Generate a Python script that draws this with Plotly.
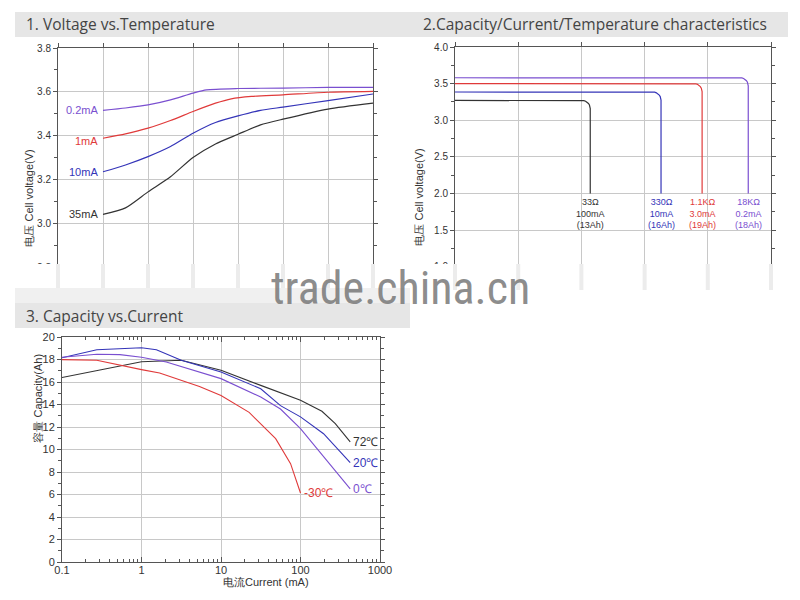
import numpy as np
import plotly.graph_objects as go

# ---------------- data ----------------
# Chart 1: Voltage vs Temperature (x in grid units)
v02_x = [1, 1.5, 2, 2.5, 3, 3.3, 4, 5, 6, 7]
v02_y = [3.515, 3.526, 3.54, 3.563, 3.594, 3.609, 3.615, 3.617, 3.62, 3.62]
v1_x = [1, 1.5, 2, 2.5, 3, 3.5, 3.85, 4.3, 5, 6, 7]
v1_y = [3.388, 3.408, 3.434, 3.469, 3.51, 3.548, 3.568, 3.579, 3.586, 3.598, 3.602]
v10_x = [1, 1.5, 2, 2.5, 3, 3.5, 4, 4.5, 5, 6, 7]
v10_y = [3.235, 3.266, 3.304, 3.35, 3.411, 3.46, 3.49, 3.515, 3.53, 3.56, 3.59]
v35_x = [1, 1.5, 2, 2.5, 3, 3.5, 4, 4.5, 5, 6, 7]
v35_y = [3.04, 3.07, 3.143, 3.212, 3.3, 3.362, 3.406, 3.449, 3.475, 3.521, 3.548]
c1_labels = ["0.2mA", "1mA", "10mA", "35mA"]

# Chart 2: discharge plateaus
c2_levels = [3.27, 3.385, 3.50, 3.58]
c2_cutoff = [2.14, 3.26, 3.91, 4.64]
c2_end = 2.0
c2_labels = ["33Ω<br>100mA<br>(13Ah)", "330Ω<br>10mA<br>(16Ah)",
             "1.1KΩ<br>3.0mA<br>(19Ah)", "18KΩ<br>0.2mA<br>(18Ah)"]

# Chart 3: Capacity vs Current
t72_x = [0.1, 0.274, 1, 3.16, 10, 31.6, 100, 186, 274, 422]
t72_y = [16.4, 17.0, 17.8, 17.93, 17.04, 15.7, 14.37, 13.4, 12.3, 10.67]
t20_x = [0.1, 0.274, 1, 1.54, 3.16, 10, 31.6, 56, 100, 195, 422]
t20_y = [18.16, 18.87, 19.05, 18.87, 17.93, 16.89, 15.4, 13.9, 12.9, 11.4, 8.83]
t0_x = [0.1, 0.274, 0.536, 1, 2.05, 10, 31.6, 56, 100, 422]
t0_y = [18.2, 18.46, 18.43, 18.2, 17.78, 16.3, 14.67, 13.6, 11.85, 6.5]
tm30_x = [0.1, 0.274, 1, 1.69, 5.36, 10, 22.6, 48.7, 75, 100]
tm30_y = [17.99, 17.93, 17.1, 16.8, 15.6, 14.8, 13.3, 10.96, 8.74, 6.13]
c3_labels = ["72℃", "20℃", "0℃", "-30℃"]

# ---------------- styles ----------------
BLACK = "#333333"
BLUE = "#3434b8"
RED = "#e03a3a"
PURPLE = "#7a4fd0"
GRID = "#c8c8c8"
AXIS = "#555555"
TFONT = "Liberation Sans, Arial, sans-serif"
HFONT = "Open Sans, DejaVu Sans, sans-serif"

# page has an 8px body margin: figure is placed at (8, 8)
OFF = 8
W, H = 800 - 2 * OFF, 600 - 2 * OFF
def px(x): return (x - OFF) / W
def py(y): return 1 - (y - OFF) / H

fig = go.Figure()

# chart 1 traces
for xs, ys, c in [(v02_x, v02_y, PURPLE), (v1_x, v1_y, RED),
                  (v10_x, v10_y, BLUE), (v35_x, v35_y, BLACK)]:
    fig.add_trace(go.Scatter(x=xs, y=ys, mode="lines", xaxis="x", yaxis="y",
                             line=dict(color=c, width=1.2, shape="spline", smoothing=0.6),
                             showlegend=False, hoverinfo="skip"))

# chart 2 traces (rounded corners)
rx, ry = 0.13, 0.11
t = np.linspace(0, np.pi / 2, 8)
for L, cx, c in zip(c2_levels, c2_cutoff, [BLACK, BLUE, RED, PURPLE]):
    xs = [0, cx - rx] + list(cx - rx + rx * np.sin(t)) + [cx]
    ys = [L, L] + list(L - ry + ry * np.cos(t)) + [c2_end]
    fig.add_trace(go.Scatter(x=xs, y=ys, mode="lines", xaxis="x2", yaxis="y2",
                             line=dict(color=c, width=1.2),
                             showlegend=False, hoverinfo="skip"))

# chart 3 traces
for xs, ys, c in [(t72_x, t72_y, BLACK), (t20_x, t20_y, BLUE),
                  (t0_x, t0_y, PURPLE), (tm30_x, tm30_y, RED)]:
    fig.add_trace(go.Scatter(x=xs, y=ys, mode="lines", xaxis="x3", yaxis="y3",
                             line=dict(color=c, width=1.1),
                             showlegend=False, hoverinfo="skip"))

tickfont = dict(family=TFONT, size=10, color="#333333")
common = dict(showline=True, linecolor=AXIS, linewidth=1, mirror="allticks",
              gridcolor=GRID, gridwidth=1, zeroline=False, tickfont=tickfont,
              ticks="outside", ticklen=4, tickcolor=AXIS, fixedrange=True,
              automargin=False)
tf11 = dict(family=TFONT, size=11, color="#333333")

X1 = [58, 373]
X2 = [455, 771]
fig.update_layout(
    width=W, height=H, margin=dict(l=0, r=0, t=0, b=0, autoexpand=False),
    paper_bgcolor="white", plot_bgcolor="white",
    xaxis=dict(domain=[px(X1[0]), px(X1[1])], range=[0, 7], dtick=1,
               showticklabels=False, anchor="y", **common),
    yaxis=dict(domain=[py(267), py(48)], range=[2.8, 3.8], dtick=0.2,
               tickformat=".1f", anchor="x",
               minor=dict(dtick=0.1, ticks="outside", ticklen=3, tickcolor=AXIS),
               **common),
    xaxis2=dict(domain=[px(X2[0]), px(X2[1])], range=[0, 5], dtick=1,
                showticklabels=False, anchor="y2", **common),
    yaxis2=dict(domain=[py(266.6), py(47)], range=[1, 4], dtick=0.5,
                tickformat=".1f", anchor="x2",
                minor=dict(dtick=0.25, ticks="outside", ticklen=3, tickcolor=AXIS),
                **common),
    xaxis3=dict(domain=[px(62), px(380)], type="log", range=[-1, 3],
                tickvals=[0.1, 1, 10, 100, 1000], ticktext=["0.1", "1", "10", "100", "1000"],
                anchor="y3",
                minor=dict(dtick="D1", ticks="inside", ticklen=3, tickcolor=AXIS, showgrid=False),
                **{**common, "tickfont": tf11, "ticks": "inside", "ticklen": 5}),
    yaxis3=dict(domain=[py(562), py(337)], range=[0, 20], dtick=2, anchor="x3",
                minor=dict(dtick=1, ticks="outside", ticklen=3, tickcolor=AXIS),
                **{**common, "tickfont": tf11}),
)
try:
    fig.update_layout(xaxis3=dict(ticklabelstandoff=-2))
except Exception:
    pass

shapes = []
# title bands
shapes.append(dict(type="rect", xref="paper", yref="paper", x0=px(15), x1=px(788),
                   y0=py(37), y1=py(12), fillcolor="#e6e6e6", line=dict(width=0), layer="below"))
# cut region of the upper charts
shapes.append(dict(type="rect", xref="paper", yref="paper", x0=0, x1=1,
                   y0=py(300), y1=py(264), fillcolor="white", line=dict(width=0), layer="above"))
# faint blurred remains of the cut gridlines
for (a, b), n in [(X1, 7), (X2, 5)]:
    for k in range(n + 1):
        xg = a + (b - a) * k / n
        shapes.append(dict(type="line", xref="paper", yref="paper", x0=px(xg), x1=px(xg),
                           y0=py(290), y1=py(264), line=dict(color="rgba(200,200,200,0.35)", width=4),
                           layer="above"))
shapes.append(dict(type="rect", xref="paper", yref="paper", x0=px(15), x1=px(410),
                   y0=py(303), y1=py(288), fillcolor="#f0f0f0", line=dict(width=0), layer="above"))
shapes.append(dict(type="rect", xref="paper", yref="paper", x0=px(15), x1=px(410),
                   y0=py(328), y1=py(303), fillcolor="#e6e6e6", line=dict(width=0), layer="above"))
fig.update_layout(shapes=shapes)

ann = []
hdr = dict(family=HFONT, size=15.5, color="#444444")
ann.append(dict(text="1. Voltage vs.Temperature", xref="paper", yref="paper",
                x=px(24), y=py(24), xanchor="left", yanchor="middle", showarrow=False, font=hdr))
ann.append(dict(text="2.Capacity/Current/Temperature characteristics", xref="paper", yref="paper",
                x=px(421), y=py(24), xanchor="left", yanchor="middle", showarrow=False, font=hdr))
ann.append(dict(text="3. Capacity vs.Current", xref="paper", yref="paper",
                x=px(24), y=py(316), xanchor="left", yanchor="middle", showarrow=False, font=hdr))

ytf = dict(family=TFONT, size=11, color="#333333")
ann.append(dict(text="电压 Cell voltage(V)", xref="paper", yref="paper", x=px(21), y=py(148),
                textangle=-90, showarrow=False, font=ytf))
ann.append(dict(text="电压 Cell voltage(V)", xref="paper", yref="paper", x=px(418), y=py(147),
                textangle=-90, showarrow=False, font=ytf))
ann.append(dict(text="容量 Capacity(Ah)", xref="paper", yref="paper", x=px(29), y=py(445),
                textangle=-90, showarrow=False, font=ytf))
ann.append(dict(text="电流Current (mA)", xref="paper", yref="paper", x=px(221), y=py(590),
                showarrow=False, font=ytf))

# chart 1 labels
lf = dict(family=TFONT, size=11)
for lab, ys, c, dy in zip(c1_labels, [v02_y, v1_y, v10_y, v35_y],
                          [PURPLE, RED, BLUE, BLACK], [0, -3, 0, 0]):
    ann.append(dict(text=lab, x=1, y=ys[0], xref="x", yref="y", xanchor="right",
                    yanchor="middle", xshift=-3, yshift=dy, showarrow=False, font=dict(color=c, **lf)))

# chart 2 labels
for lab, cx, c in zip(c2_labels, c2_cutoff, [BLACK, BLUE, RED, PURPLE]):
    ann.append(dict(text=lab, x=cx, y=c2_end, xref="x2", yref="y2", xanchor="center",
                    yanchor="top", yshift=-2, showarrow=False, align="center",
                    font=dict(family=TFONT, size=9, color=c)))

# chart 3 labels
for lab, xs, ys, c in zip(c3_labels, [t72_x, t20_x, t0_x, tm30_x], [t72_y, t20_y, t0_y, tm30_y],
                          [BLACK, BLUE, PURPLE, RED]):
    ann.append(dict(text=lab, x=np.log10(xs[-1]), y=ys[-1], xref="x3", yref="y3",
                    xanchor="left", yanchor="middle", xshift=1, showarrow=False,
                    font=dict(family=TFONT, size=12, color=c)))

# watermark
ann.append(dict(text="trade.china.cn", xref="paper", yref="paper", x=px(400), y=py(288),
                showarrow=False, xanchor="center", yanchor="middle",
                font=dict(family="Liberation Sans Narrow, Roboto Condensed, Liberation Sans, sans-serif",
                          size=46, color="rgba(120,120,120,0.85)")))
fig.update_layout(annotations=ann)

fig.write_html("out.html")
